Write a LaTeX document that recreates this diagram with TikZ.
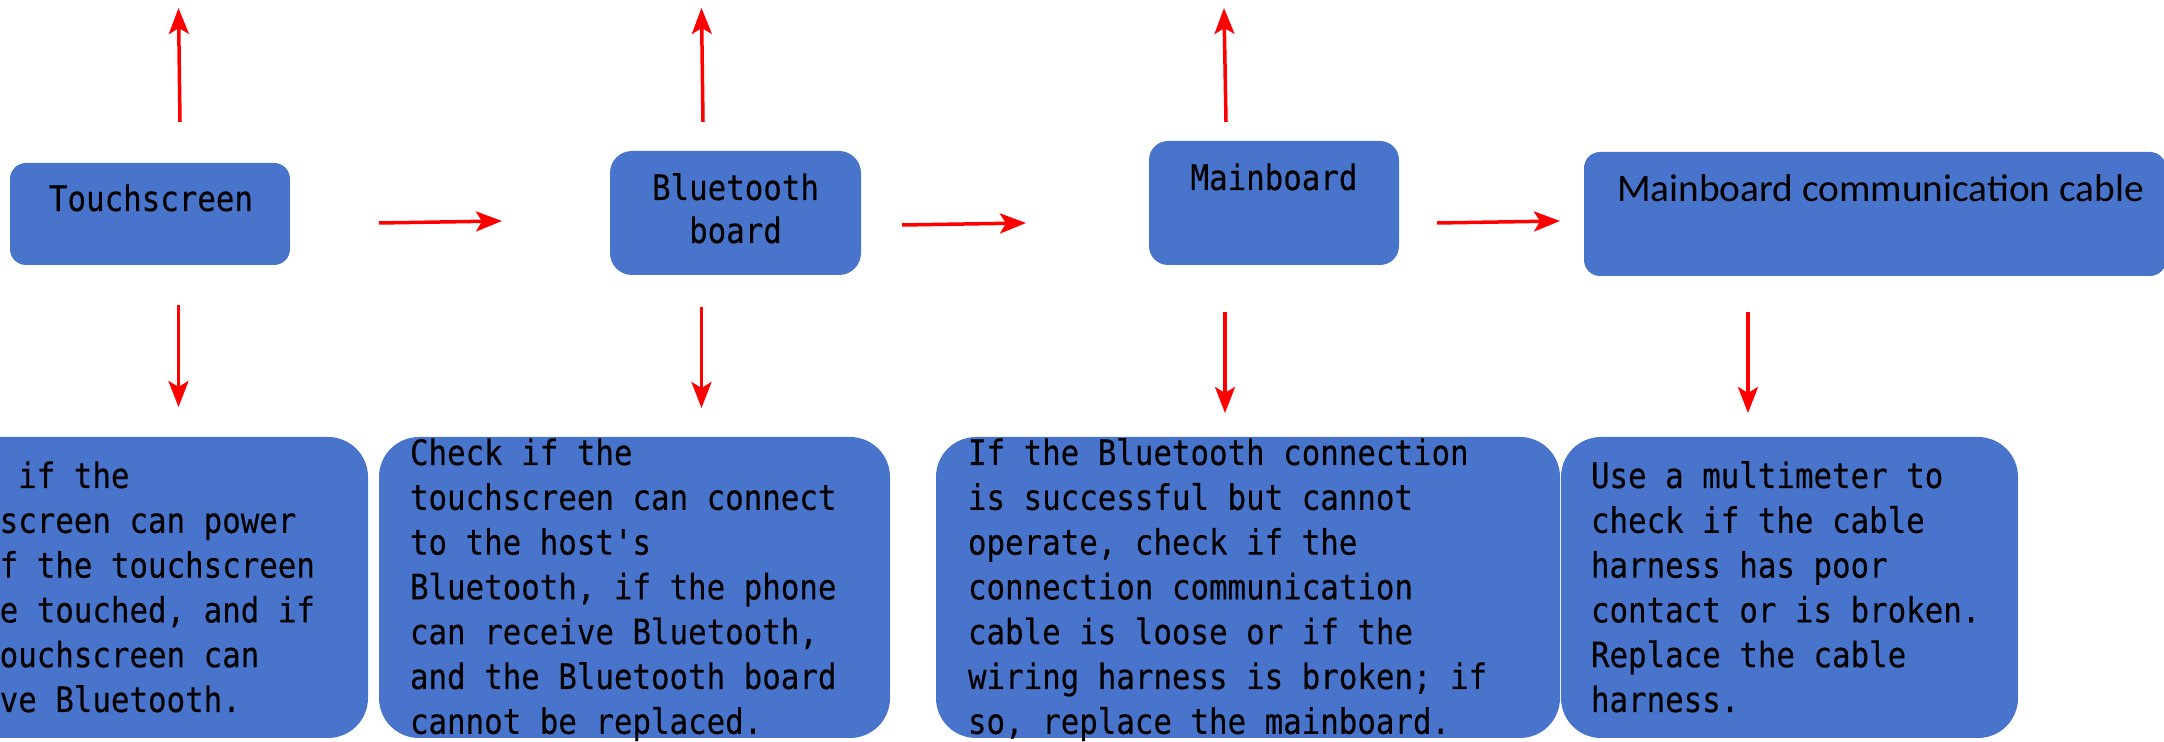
\documentclass[tikz,border=0pt]{standalone}
\usepackage{fontspec}
\usepackage{graphicx}
\usetikzlibrary{arrows.meta}
\newfontfamily\monof[FakeStretch=0.88,FakeBold=0.3]{DejaVu Sans Mono}
\newfontfamily\cablef{Carlito}
\definecolor{boxblue}{RGB}{72,116,203}
\definecolor{arrred}{RGB}{255,0,0}
\newcommand{\mfont}{\monof\fontsize{17.5pt}{22.4pt}\selectfont}
\newcommand{\linesbox}[1]{\parbox[t]{300pt}{\raggedright\mfont #1}}
\begin{document}
\begin{tikzpicture}[x=0.5pt,y=-0.5pt,
  box/.style={fill=boxblue, draw=none, inner sep=0pt, outer sep=0pt},
  arr/.style={draw=arrred, line width=1.75pt, -{Stealth[length=13pt,width=10pt,inset=3pt]}},
  lbl/.style={inner sep=0pt, outer sep=0pt, text=black}]
\useasboundingbox (0,0) rectangle (2164,742);
\clip (0,0) rectangle (2164,742);

% top boxes
\node[box, rounded corners=8pt, minimum width=140pt, minimum height=51pt] (ts) at (150,214) {};
\node[box, rounded corners=11pt, minimum width=125.5pt, minimum height=62pt] (bt) at (735.5,213) {};
\node[box, rounded corners=9.5pt, minimum width=125pt, minimum height=62pt] (mb) at (1274,203) {};
\node[box, rounded corners=8pt, minimum width=291pt, minimum height=62pt] (cb) at (1875,214) {};

% bottom boxes
\node[box, rounded corners=20pt, minimum width=246.5pt, minimum height=150.5pt] (d1) at (121.5,587.5) {};
\node[box, rounded corners=20pt, minimum width=255.5pt, minimum height=150.5pt] (d2) at (634.5,587.5) {};
\node[box, rounded corners=20pt, minimum width=312pt, minimum height=150.5pt] (d3) at (1248,587.5) {};
\node[box, rounded corners=20pt, minimum width=228.5pt, minimum height=150.5pt] (d4) at (1789.5,587.5) {};

% top labels
\node[lbl, anchor=base] (tst) at (151,211) {\mfont Touchscreen};
\node[lbl, anchor=base] (btt) at (735.5,200) {\parbox[t]{150pt}{\centering\monof\fontsize{17.5pt}{21.5pt}\selectfont Bluetooth\\board}};
\node[lbl, anchor=base] (mbt) at (1274,190) {\mfont Mainboard};
\node[lbl, anchor=base west] (cbt) at (1617,202) {\resizebox{263.5pt}{\height}{\cablef\fontsize{19.4pt}{23pt}\selectfont Mainboard communication cable}};

% bottom texts
\node[lbl, anchor=base west] (t1) at (-93,488) {\linesbox{Check if the\\touchscreen can power\\on, if the touchscreen\\can be touched, and if\\the touchscreen can\\receive Bluetooth.}};
\node[lbl, anchor=base west] (t2) at (410,465) {\linesbox{Check if the\\touchscreen can connect\\to the host's\\Bluetooth, if the phone\\can receive Bluetooth,\\and the Bluetooth board\\cannot be replaced.}};
\node[lbl, anchor=base west] (t3) at (968,465) {\linesbox{If the Bluetooth connection\\is successful but cannot\\operate, check if the\\connection communication\\cable is loose or if the\\wiring harness is broken; if\\so, replace the mainboard.}};
\node[lbl, anchor=base west] (t4) at (1591,488) {\linesbox{Use a multimeter to\\check if the cable\\harness has poor\\contact or is broken.\\Replace the cable\\harness.}};

% arrow end points
\coordinate (a1s) at (180,122);   \coordinate (a1e) at (178.5,8);
\coordinate (a2s) at (178.5,305); \coordinate (a2e) at (178.5,407);
\coordinate (a3s) at (379,223);   \coordinate (a3e) at (502,221);
\coordinate (a4s) at (703,122);   \coordinate (a4e) at (701.5,8);
\coordinate (a5s) at (701.5,307); \coordinate (a5e) at (701.5,408);
\coordinate (a6s) at (902,225);   \coordinate (a6e) at (1026,223);
\coordinate (a7s) at (1226,122);  \coordinate (a7e) at (1224,8);
\coordinate (a8s) at (1225,312);  \coordinate (a8e) at (1225,413);
\coordinate (a9s) at (1437,223);  \coordinate (a9e) at (1560,221);
\coordinate (a10s) at (1748,312); \coordinate (a10e) at (1748,413);

\draw[arr] (a1s) -- (a1e);
\draw[arr] (a2s) -- (a2e);
\draw[arr] (a3s) -- (a3e);
\draw[arr] (a4s) -- (a4e);
\draw[arr] (a5s) -- (a5e);
\draw[arr] (a6s) -- (a6e);
\draw[arr] (a7s) -- (a7e);
\draw[arr] (a8s) -- (a8e);
\draw[arr] (a9s) -- (a9e);
\draw[arr] (a10s) -- (a10e);
\end{tikzpicture}
\end{document}
